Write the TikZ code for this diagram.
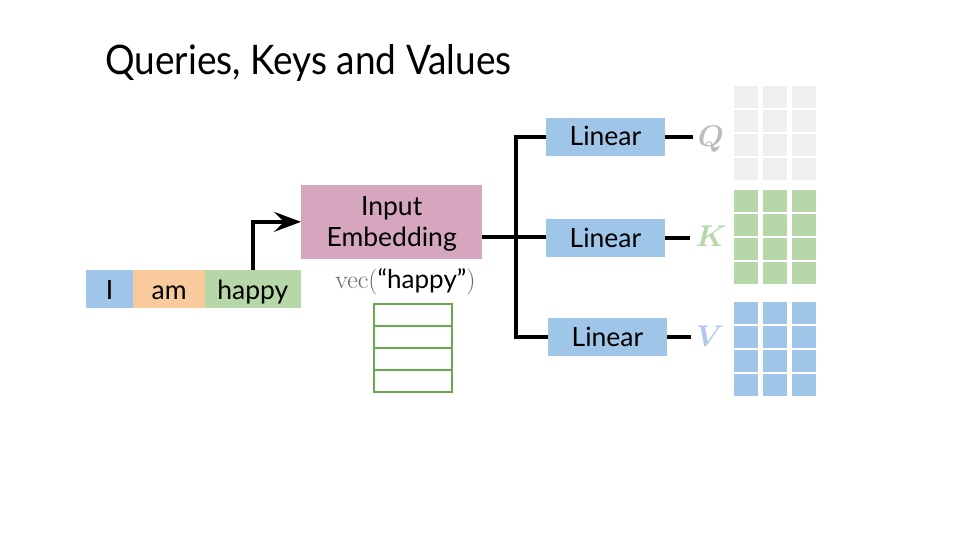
\RequirePackage{fix-cm}
\documentclass[tikz,border=0pt]{standalone}
\usepackage[no-math]{fontspec}
\setmainfont{Lato}
\usepackage{bm}
\usetikzlibrary{arrows.meta}
\definecolor{cblue}{HTML}{9FC5E8}
\definecolor{corange}{HTML}{F9CB9C}
\definecolor{cgreen}{HTML}{B6D7A8}
\definecolor{cpink}{HTML}{D5A6BD}
\definecolor{cgrayq}{HTML}{EFEFEF}
\definecolor{cqtext}{HTML}{BBBBBB}
\definecolor{cvtext}{HTML}{AFC8EC}
\definecolor{cvecline}{HTML}{6AA84F}
\definecolor{cvecgray}{HTML}{666666}
\begin{document}
\begin{tikzpicture}[x=1pt,y=-1pt,
  box/.style={draw=none, inner sep=0pt, outer sep=0pt, anchor=center},
  lbl/.style={font=\fontsize{26.5}{30}\selectfont, anchor=base, inner sep=0pt},
  conn/.style={line width=3.5pt, black},
  letter/.style={font=\fontsize{30}{32}\selectfont, anchor=base, inner xsep=5pt, inner ysep=0pt}
]
\useasboundingbox (0,0) rectangle (960,540);

% title
\node[anchor=base west, inner sep=0pt, font=\fontsize{37}{40}\selectfont] (title) at (105,74.5) {\scalebox{1}[1.1]{Queries, Keys and Values}};

% words
\node[box, fill=cblue, minimum width=47.3pt, minimum height=37.7pt] (w1) at (109.65,288.85) {};
\node[box, fill=corange, minimum width=71.7pt, minimum height=37.7pt] (w2) at (169.15,288.85) {};
\node[box, fill=cgreen, minimum width=95.7pt, minimum height=37.7pt] (w3) at (252.85,288.85) {};
\node[lbl] (t1) at (109.65,299.5) {I};
\node[lbl] (t2) at (169.15,299.5) {am};
\node[lbl] (t3) at (252.85,299.5) {happy};

% embedding
\node[box, fill=cpink, minimum width=181.3pt, minimum height=73.7pt] (emb) at (391.65,221.85) {};
\node[lbl] (e1) at (391.65,215) {Input};
\node[lbl] (e2) at (391.65,246) {Embedding};

\draw[conn, -{Stealth[length=27pt,width=20pt,inset=10pt]}] (w3.north) |- (emb.west);

% vec label
\node[anchor=base, inner sep=0pt, font=\fontsize{26}{30}\selectfont] (vec) at (405.5,288)
  {\textcolor{cvecgray}{$\mathrm{vec}($}“happy”\textcolor{cvecgray}{$)$}};

% vector
\draw[cvecline, line width=1.7pt] (374,304.3) rectangle (452.3,391.7);
\foreach \yy in {326.15,348,369.85}
  \draw[cvecline, line width=1.7pt] (374,\yy) -- (452.3,\yy);

% linear boxes
\node[box, fill=cblue, minimum width=119pt, minimum height=37.4pt] (lin1) at (605.5,137) {};
\node[box, fill=cblue, minimum width=119pt, minimum height=37.4pt] (lin2) at (605.5,238) {};
\node[box, fill=cblue, minimum width=119pt, minimum height=37.4pt] (lin3) at (607.5,337) {};
\node[lbl] (l1) at (605.5,146) {Linear};
\node[lbl] (l2) at (605.5,247) {Linear};
\node[lbl] (l3) at (607.5,346) {Linear};

% connectors
\coordinate (tr) at (516,237);
\draw[conn] (emb.east |- tr) -- (lin2.west |- tr);
\draw[conn] (lin1.west) -| (tr) |- (lin3.west);

% letters
\node[letter, text=cqtext] (q) at (711,146.7) {$\bm{Q}$};
\node[letter, text=cgreen] (k) at (711,246.7) {$\bm{K}$};
\node[letter, text=cvtext] (v) at (710,346.7) {$\bm{V}$};
\draw[conn] (lin1.east) -- (lin1.east -| q.west);
\draw[conn] (lin2.east) -- (lin2.east -| k.west);
\draw[conn] (lin3.east) -- (lin3.east -| v.west);

% matrices
\foreach \c in {0,1,2}
  \foreach \r in {0,1,2,3} {
    \fill[cgrayq] (734+29*\c, 86+23.9*\r) rectangle ++(23.7,22.3);
    \fill[cgreen] (734+29*\c, 190+23.9*\r) rectangle ++(23.7,22.3);
    \fill[cblue]  (734+29*\c, 302+23.9*\r) rectangle ++(23.7,22.3);
  }
\end{tikzpicture}
\end{document}
